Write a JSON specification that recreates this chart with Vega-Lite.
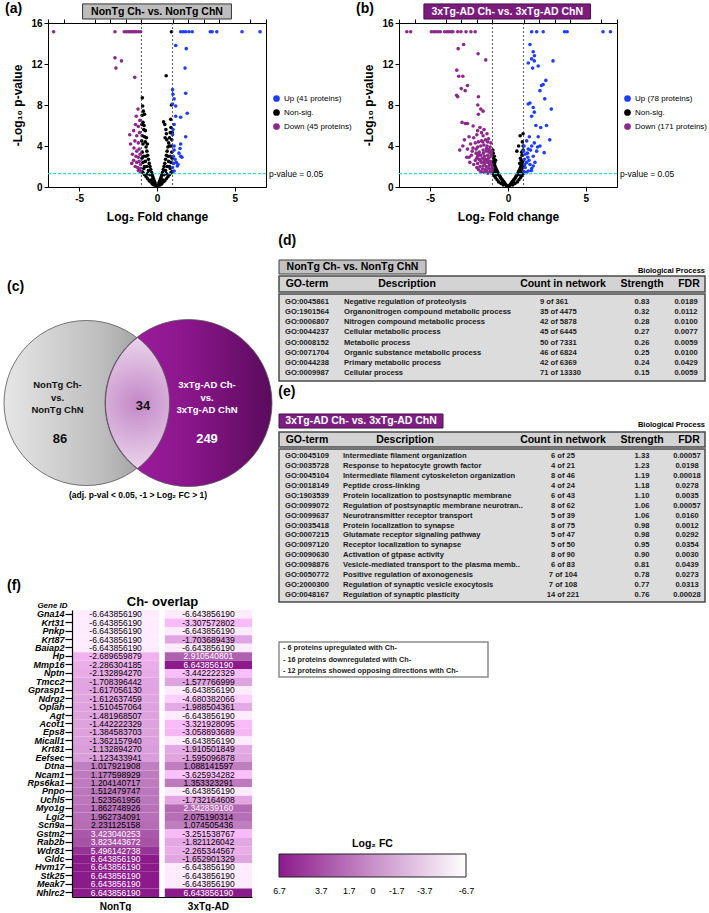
{
"$schema": "https://vega.github.io/schema/vega-lite/v6.json",
"background": "white",
"padding": {"left": 2, "top": 1, "right": 0, "bottom": 0},
"config": {
  "font": "Liberation Sans",
  "view": {"stroke": null},
  "locale": {"number": {"decimal": ".", "thousands": ",", "grouping": [3], "currency": ["$", ""], "minus": "-"}},
  "title": {"fontSize": 14, "fontWeight": "bold", "anchor": "start", "color": "black"},
  "axis": {"labelColor": "black", "titleColor": "black", "domainColor": "black", "tickColor": "black", "grid": false}
},
"datasets": {
  "volcanoA": [
    {"log2fc":0,"nlogp":0.05,"status":"Non-sig."},{"log2fc":0.05,"nlogp":0.1,"status":"Non-sig."},{"log2fc":-0.05,"nlogp":0.1,"status":"Non-sig."},{"log2fc":0.1,"nlogp":0.2,"status":"Non-sig."},{"log2fc":-0.1,"nlogp":0.2,"status":"Non-sig."},{"log2fc":0.12,"nlogp":0.4,"status":"Non-sig."},{"log2fc":-0.12,"nlogp":0.4,"status":"Non-sig."},{"log2fc":0.18,"nlogp":0.6,"status":"Non-sig."},{"log2fc":-0.18,"nlogp":0.6,"status":"Non-sig."},{"log2fc":0.22,"nlogp":0.8,"status":"Non-sig."},{"log2fc":-0.22,"nlogp":0.8,"status":"Non-sig."},{"log2fc":0.27,"nlogp":1.0,"status":"Non-sig."},{"log2fc":-0.27,"nlogp":1.0,"status":"Non-sig."},{"log2fc":0.3,"nlogp":1.2,"status":"Non-sig."},{"log2fc":-0.3,"nlogp":1.2,"status":"Non-sig."},{"log2fc":0.35,"nlogp":1.4,"status":"Non-sig."},{"log2fc":-0.35,"nlogp":1.4,"status":"Non-sig."},{"log2fc":0.4,"nlogp":1.7,"status":"Non-sig."},{"log2fc":-0.4,"nlogp":1.7,"status":"Non-sig."},{"log2fc":0.45,"nlogp":2.0,"status":"Non-sig."},{"log2fc":-0.45,"nlogp":2.0,"status":"Non-sig."},{"log2fc":0.5,"nlogp":2.3,"status":"Non-sig."},{"log2fc":-0.5,"nlogp":2.3,"status":"Non-sig."},{"log2fc":0.55,"nlogp":2.7,"status":"Non-sig."},{"log2fc":-0.55,"nlogp":2.7,"status":"Non-sig."},{"log2fc":0.6,"nlogp":3.1,"status":"Non-sig."},{"log2fc":-0.6,"nlogp":3.1,"status":"Non-sig."},{"log2fc":0.65,"nlogp":3.5,"status":"Non-sig."},{"log2fc":-0.65,"nlogp":3.5,"status":"Non-sig."},{"log2fc":0.7,"nlogp":3.9,"status":"Non-sig."},{"log2fc":-0.7,"nlogp":3.9,"status":"Non-sig."},{"log2fc":0.75,"nlogp":4.3,"status":"Non-sig."},{"log2fc":-0.75,"nlogp":4.4,"status":"Non-sig."},{"log2fc":0.8,"nlogp":4.8,"status":"Non-sig."},{"log2fc":-0.8,"nlogp":4.9,"status":"Non-sig."},{"log2fc":0.85,"nlogp":5.3,"status":"Non-sig."},{"log2fc":-0.85,"nlogp":5.6,"status":"Non-sig."},{"log2fc":0.9,"nlogp":5.8,"status":"Non-sig."},{"log2fc":-0.9,"nlogp":6.3,"status":"Non-sig."},{"log2fc":-0.95,"nlogp":7.0,"status":"Non-sig."},{"log2fc":-0.92,"nlogp":7.9,"status":"Non-sig."},{"log2fc":-0.94,"nlogp":8.7,"status":"Non-sig."},{"log2fc":-0.88,"nlogp":7.4,"status":"Non-sig."},{"log2fc":-0.97,"nlogp":6.1,"status":"Non-sig."},{"log2fc":-0.83,"nlogp":6.0,"status":"Non-sig."},{"log2fc":0.2,"nlogp":0.2,"status":"Non-sig."},{"log2fc":-0.2,"nlogp":0.2,"status":"Non-sig."},{"log2fc":0.3,"nlogp":0.3,"status":"Non-sig."},{"log2fc":-0.3,"nlogp":0.3,"status":"Non-sig."},{"log2fc":0.4,"nlogp":0.5,"status":"Non-sig."},{"log2fc":-0.4,"nlogp":0.5,"status":"Non-sig."},{"log2fc":0.5,"nlogp":0.6,"status":"Non-sig."},{"log2fc":-0.5,"nlogp":0.6,"status":"Non-sig."},{"log2fc":0.6,"nlogp":0.8,"status":"Non-sig."},{"log2fc":-0.6,"nlogp":0.8,"status":"Non-sig."},{"log2fc":0.7,"nlogp":1.0,"status":"Non-sig."},{"log2fc":-0.7,"nlogp":1.0,"status":"Non-sig."},{"log2fc":0.8,"nlogp":1.2,"status":"Non-sig."},{"log2fc":-0.8,"nlogp":1.2,"status":"Non-sig."},{"log2fc":0.9,"nlogp":1.4,"status":"Non-sig."},{"log2fc":-0.9,"nlogp":1.4,"status":"Non-sig."},{"log2fc":0.97,"nlogp":1.5,"status":"Non-sig."},{"log2fc":-0.97,"nlogp":1.5,"status":"Non-sig."},{"log2fc":0.45,"nlogp":1.2,"status":"Non-sig."},{"log2fc":-0.45,"nlogp":1.2,"status":"Non-sig."},{"log2fc":0.55,"nlogp":1.6,"status":"Non-sig."},{"log2fc":-0.55,"nlogp":1.6,"status":"Non-sig."},{"log2fc":0.65,"nlogp":2.0,"status":"Non-sig."},{"log2fc":-0.65,"nlogp":2.0,"status":"Non-sig."},{"log2fc":0.75,"nlogp":2.5,"status":"Non-sig."},{"log2fc":-0.75,"nlogp":2.5,"status":"Non-sig."},{"log2fc":0.85,"nlogp":3.0,"status":"Non-sig."},{"log2fc":-0.85,"nlogp":3.0,"status":"Non-sig."},{"log2fc":0.95,"nlogp":3.4,"status":"Non-sig."},{"log2fc":-0.95,"nlogp":3.4,"status":"Non-sig."},{"log2fc":0.8,"nlogp":2.0,"status":"Non-sig."},{"log2fc":-0.8,"nlogp":2.0,"status":"Non-sig."},{"log2fc":0.9,"nlogp":2.4,"status":"Non-sig."},{"log2fc":-0.9,"nlogp":2.4,"status":"Non-sig."},{"log2fc":0.97,"nlogp":2.8,"status":"Non-sig."},{"log2fc":-0.97,"nlogp":2.8,"status":"Non-sig."},{"log2fc":0.7,"nlogp":3.0,"status":"Non-sig."},{"log2fc":-0.7,"nlogp":3.0,"status":"Non-sig."},{"log2fc":0.9,"nlogp":4.0,"status":"Non-sig."},{"log2fc":-0.9,"nlogp":4.2,"status":"Non-sig."},{"log2fc":0.95,"nlogp":4.6,"status":"Non-sig."},{"log2fc":-0.95,"nlogp":5.0,"status":"Non-sig."},{"log2fc":0.98,"nlogp":5.3,"status":"Non-sig."},{"log2fc":-0.98,"nlogp":4.5,"status":"Non-sig."},{"log2fc":0.35,"nlogp":0.7,"status":"Non-sig."},{"log2fc":-0.35,"nlogp":0.7,"status":"Non-sig."},{"log2fc":0.25,"nlogp":0.45,"status":"Non-sig."},{"log2fc":-0.25,"nlogp":0.45,"status":"Non-sig."},{"log2fc":0.6,"nlogp":1.3,"status":"Non-sig."},{"log2fc":-0.6,"nlogp":1.3,"status":"Non-sig."},{"log2fc":0.85,"nlogp":1.8,"status":"Non-sig."},{"log2fc":-0.85,"nlogp":1.8,"status":"Non-sig."},{"log2fc":0.42,"nlogp":6.35,"status":"Non-sig."},{"log2fc":0.5,"nlogp":6.1,"status":"Non-sig."},{"log2fc":0.57,"nlogp":5.6,"status":"Non-sig."},{"log2fc":0.6,"nlogp":5.2,"status":"Non-sig."},{"log2fc":0.52,"nlogp":4.8,"status":"Non-sig."},{"log2fc":0.63,"nlogp":4.6,"status":"Non-sig."},{"log2fc":0.78,"nlogp":4.0,"status":"Non-sig."},{"log2fc":0.93,"nlogp":8.0,"status":"Non-sig."},{"log2fc":0.59,"nlogp":10.85,"status":"Non-sig."},{"log2fc":0.93,"nlogp":15.15,"status":"Non-sig."},{"log2fc":0.88,"nlogp":6.6,"status":"Non-sig."},{"log2fc":-0.8,"nlogp":7.1,"status":"Non-sig."},{"log2fc":-0.75,"nlogp":5.5,"status":"Non-sig."},{"log2fc":-0.68,"nlogp":4.8,"status":"Non-sig."},{"log2fc":-0.62,"nlogp":4.2,"status":"Non-sig."},
    {"log2fc":-6.64,"nlogp":15.15,"status":"Down"},{"log2fc":-2.7,"nlogp":15.15,"status":"Down"},{"log2fc":-2.1,"nlogp":15.15,"status":"Down"},{"log2fc":-1.96,"nlogp":15.15,"status":"Down"},{"log2fc":-1.85,"nlogp":15.15,"status":"Down"},{"log2fc":-1.75,"nlogp":15.15,"status":"Down"},{"log2fc":-1.64,"nlogp":15.15,"status":"Down"},{"log2fc":-1.54,"nlogp":15.15,"status":"Down"},{"log2fc":-1.43,"nlogp":15.15,"status":"Down"},{"log2fc":-1.33,"nlogp":15.15,"status":"Down"},{"log2fc":-1.18,"nlogp":15.15,"status":"Down"},{"log2fc":-1.05,"nlogp":15.15,"status":"Down"},
    {"log2fc":-2.7,"nlogp":12.6,"status":"Down"},{"log2fc":-2.64,"nlogp":11.6,"status":"Down"},{"log2fc":-2.28,"nlogp":12.3,"status":"Down"},{"log2fc":-1.43,"nlogp":10.7,"status":"Down"},{"log2fc":-1.22,"nlogp":7.6,"status":"Down"},{"log2fc":-1.33,"nlogp":6.9,"status":"Down"},{"log2fc":-1.1,"nlogp":6.5,"status":"Down"},{"log2fc":-1.38,"nlogp":6.1,"status":"Down"},{"log2fc":-1.2,"nlogp":5.9,"status":"Down"},{"log2fc":-1.75,"nlogp":5.1,"status":"Down"},{"log2fc":-1.5,"nlogp":5.5,"status":"Down"},{"log2fc":-1.3,"nlogp":5.0,"status":"Down"},{"log2fc":-1.12,"nlogp":5.3,"status":"Down"},{"log2fc":-1.7,"nlogp":4.2,"status":"Down"},{"log2fc":-1.42,"nlogp":4.5,"status":"Down"},{"log2fc":-1.2,"nlogp":4.3,"status":"Down"},{"log2fc":-1.48,"nlogp":3.8,"status":"Down"},{"log2fc":-1.3,"nlogp":3.5,"status":"Down"},{"log2fc":-1.15,"nlogp":3.7,"status":"Down"},{"log2fc":-1.58,"nlogp":3.2,"status":"Down"},{"log2fc":-1.35,"nlogp":3.0,"status":"Down"},{"log2fc":-1.2,"nlogp":2.9,"status":"Down"},{"log2fc":-1.08,"nlogp":3.2,"status":"Down"},{"log2fc":-1.5,"nlogp":2.6,"status":"Down"},{"log2fc":-1.3,"nlogp":2.4,"status":"Down"},{"log2fc":-1.15,"nlogp":2.5,"status":"Down"},{"log2fc":-1.05,"nlogp":2.2,"status":"Down"},{"log2fc":-1.4,"nlogp":2.0,"status":"Down"},{"log2fc":-1.25,"nlogp":1.9,"status":"Down"},{"log2fc":-1.1,"nlogp":1.8,"status":"Down"},{"log2fc":-1.2,"nlogp":1.6,"status":"Down"},{"log2fc":-1.05,"nlogp":1.5,"status":"Down"},{"log2fc":-1.62,"nlogp":2.3,"status":"Down"},
    {"log2fc":1.52,"nlogp":15.15,"status":"Up"},{"log2fc":1.69,"nlogp":15.15,"status":"Up"},{"log2fc":1.84,"nlogp":15.15,"status":"Up"},{"log2fc":2.05,"nlogp":15.15,"status":"Up"},{"log2fc":2.26,"nlogp":15.15,"status":"Up"},{"log2fc":3.42,"nlogp":15.15,"status":"Up"},{"log2fc":3.54,"nlogp":15.15,"status":"Up"},{"log2fc":3.84,"nlogp":15.15,"status":"Up"},{"log2fc":5.46,"nlogp":15.15,"status":"Up"},{"log2fc":6.62,"nlogp":15.15,"status":"Up"},
    {"log2fc":1.2,"nlogp":13.8,"status":"Up"},{"log2fc":1.88,"nlogp":13.5,"status":"Up"},{"log2fc":1.8,"nlogp":11.6,"status":"Up"},{"log2fc":1.84,"nlogp":9.15,"status":"Up"},{"log2fc":1.0,"nlogp":9.5,"status":"Up"},{"log2fc":1.02,"nlogp":9.05,"status":"Up"},{"log2fc":1.1,"nlogp":8.6,"status":"Up"},{"log2fc":1.0,"nlogp":8.1,"status":"Up"},{"log2fc":1.2,"nlogp":7.9,"status":"Up"},{"log2fc":1.94,"nlogp":7.2,"status":"Up"},{"log2fc":1.2,"nlogp":6.9,"status":"Up"},{"log2fc":1.52,"nlogp":6.8,"status":"Up"},{"log2fc":1.1,"nlogp":6.1,"status":"Up"},{"log2fc":1.03,"nlogp":5.6,"status":"Up"},{"log2fc":1.0,"nlogp":5.1,"status":"Up"},{"log2fc":1.84,"nlogp":4.9,"status":"Up"},{"log2fc":1.1,"nlogp":4.0,"status":"Up"},{"log2fc":1.52,"nlogp":4.2,"status":"Up"},{"log2fc":1.48,"nlogp":3.75,"status":"Up"},{"log2fc":1.41,"nlogp":3.3,"status":"Up"},{"log2fc":1.52,"nlogp":3.0,"status":"Up"},{"log2fc":1.1,"nlogp":3.6,"status":"Up"},{"log2fc":1.16,"nlogp":2.7,"status":"Up"},{"log2fc":1.24,"nlogp":2.4,"status":"Up"},{"log2fc":1.3,"nlogp":2.05,"status":"Up"},{"log2fc":1.1,"nlogp":1.56,"status":"Up"},{"log2fc":1.0,"nlogp":1.9,"status":"Up"},{"log2fc":1.05,"nlogp":3.0,"status":"Up"},{"log2fc":1.35,"nlogp":2.2,"status":"Up"},{"log2fc":1.6,"nlogp":2.9,"status":"Up"},{"log2fc":1.07,"nlogp":2.3,"status":"Up"}
  ],
  "volcanoB": [
    {"log2fc":0,"nlogp":0.05,"status":"Non-sig."},{"log2fc":0.05,"nlogp":0.08,"status":"Non-sig."},{"log2fc":-0.05,"nlogp":0.08,"status":"Non-sig."},{"log2fc":0.1,"nlogp":0.15,"status":"Non-sig."},{"log2fc":-0.1,"nlogp":0.15,"status":"Non-sig."},{"log2fc":0.15,"nlogp":0.25,"status":"Non-sig."},{"log2fc":-0.15,"nlogp":0.25,"status":"Non-sig."},{"log2fc":0.2,"nlogp":0.35,"status":"Non-sig."},{"log2fc":-0.2,"nlogp":0.35,"status":"Non-sig."},{"log2fc":0.25,"nlogp":0.45,"status":"Non-sig."},{"log2fc":-0.25,"nlogp":0.45,"status":"Non-sig."},{"log2fc":0.3,"nlogp":0.55,"status":"Non-sig."},{"log2fc":-0.3,"nlogp":0.55,"status":"Non-sig."},{"log2fc":0.35,"nlogp":0.65,"status":"Non-sig."},{"log2fc":-0.35,"nlogp":0.65,"status":"Non-sig."},{"log2fc":0.4,"nlogp":0.75,"status":"Non-sig."},{"log2fc":-0.4,"nlogp":0.75,"status":"Non-sig."},{"log2fc":0.45,"nlogp":0.85,"status":"Non-sig."},{"log2fc":-0.45,"nlogp":0.85,"status":"Non-sig."},{"log2fc":0.5,"nlogp":1.0,"status":"Non-sig."},{"log2fc":-0.5,"nlogp":1.0,"status":"Non-sig."},{"log2fc":0.55,"nlogp":1.1,"status":"Non-sig."},{"log2fc":-0.55,"nlogp":1.1,"status":"Non-sig."},{"log2fc":0.6,"nlogp":1.25,"status":"Non-sig."},{"log2fc":-0.6,"nlogp":1.25,"status":"Non-sig."},{"log2fc":0.65,"nlogp":1.4,"status":"Non-sig."},{"log2fc":-0.65,"nlogp":1.4,"status":"Non-sig."},{"log2fc":0.7,"nlogp":1.55,"status":"Non-sig."},{"log2fc":-0.7,"nlogp":1.55,"status":"Non-sig."},{"log2fc":0.75,"nlogp":1.7,"status":"Non-sig."},{"log2fc":-0.75,"nlogp":1.7,"status":"Non-sig."},{"log2fc":0.8,"nlogp":1.9,"status":"Non-sig."},{"log2fc":-0.8,"nlogp":1.9,"status":"Non-sig."},{"log2fc":0.85,"nlogp":2.1,"status":"Non-sig."},{"log2fc":-0.85,"nlogp":2.1,"status":"Non-sig."},{"log2fc":0.9,"nlogp":2.3,"status":"Non-sig."},{"log2fc":-0.9,"nlogp":2.3,"status":"Non-sig."},{"log2fc":0.95,"nlogp":2.5,"status":"Non-sig."},{"log2fc":-0.95,"nlogp":2.5,"status":"Non-sig."},
    {"log2fc":0.3,"nlogp":0.2,"status":"Non-sig."},{"log2fc":-0.3,"nlogp":0.2,"status":"Non-sig."},{"log2fc":0.45,"nlogp":0.35,"status":"Non-sig."},{"log2fc":-0.45,"nlogp":0.35,"status":"Non-sig."},{"log2fc":0.6,"nlogp":0.5,"status":"Non-sig."},{"log2fc":-0.6,"nlogp":0.5,"status":"Non-sig."},{"log2fc":0.7,"nlogp":0.7,"status":"Non-sig."},{"log2fc":-0.7,"nlogp":0.7,"status":"Non-sig."},{"log2fc":0.8,"nlogp":0.9,"status":"Non-sig."},{"log2fc":-0.8,"nlogp":0.9,"status":"Non-sig."},{"log2fc":0.9,"nlogp":1.1,"status":"Non-sig."},{"log2fc":-0.9,"nlogp":1.1,"status":"Non-sig."},{"log2fc":0.97,"nlogp":1.3,"status":"Non-sig."},{"log2fc":-0.97,"nlogp":1.3,"status":"Non-sig."},{"log2fc":0.75,"nlogp":1.2,"status":"Non-sig."},{"log2fc":-0.75,"nlogp":1.2,"status":"Non-sig."},{"log2fc":0.9,"nlogp":1.6,"status":"Non-sig."},{"log2fc":-0.9,"nlogp":1.6,"status":"Non-sig."},{"log2fc":0.97,"nlogp":1.9,"status":"Non-sig."},{"log2fc":-0.97,"nlogp":1.9,"status":"Non-sig."},{"log2fc":0.85,"nlogp":1.5,"status":"Non-sig."},{"log2fc":-0.85,"nlogp":1.5,"status":"Non-sig."},{"log2fc":0.95,"nlogp":2.2,"status":"Non-sig."},{"log2fc":-0.95,"nlogp":2.2,"status":"Non-sig."},
    {"log2fc":-0.95,"nlogp":3.3,"status":"Non-sig."},{"log2fc":-0.88,"nlogp":3.0,"status":"Non-sig."},{"log2fc":-0.92,"nlogp":2.8,"status":"Non-sig."},{"log2fc":-0.8,"nlogp":2.6,"status":"Non-sig."},{"log2fc":-0.97,"nlogp":3.6,"status":"Non-sig."},{"log2fc":-0.85,"nlogp":2.4,"status":"Non-sig."},
    {"log2fc":0.97,"nlogp":5.2,"status":"Non-sig."},{"log2fc":0.92,"nlogp":4.4,"status":"Non-sig."},{"log2fc":0.88,"nlogp":3.4,"status":"Non-sig."},{"log2fc":0.8,"nlogp":2.8,"status":"Non-sig."},{"log2fc":0.97,"nlogp":4.0,"status":"Non-sig."},{"log2fc":0.9,"nlogp":3.1,"status":"Non-sig."},{"log2fc":0.85,"nlogp":2.6,"status":"Non-sig."},{"log2fc":0.97,"nlogp":3.6,"status":"Non-sig."},{"log2fc":0.75,"nlogp":2.3,"status":"Non-sig."},{"log2fc":0.78,"nlogp":5.0,"status":"Non-sig."},{"log2fc":0.68,"nlogp":4.0,"status":"Non-sig."},{"log2fc":0.57,"nlogp":3.5,"status":"Non-sig."},
    {"log2fc":-6.5,"nlogp":15.15,"status":"Down"},{"log2fc":-6.25,"nlogp":15.15,"status":"Down"},{"log2fc":-4.92,"nlogp":15.15,"status":"Down"},{"log2fc":-4.77,"nlogp":15.15,"status":"Down"},{"log2fc":-4.64,"nlogp":15.15,"status":"Down"},{"log2fc":-4.49,"nlogp":15.15,"status":"Down"},{"log2fc":-4.35,"nlogp":15.15,"status":"Down"},{"log2fc":-4.07,"nlogp":15.15,"status":"Down"},{"log2fc":-3.92,"nlogp":15.15,"status":"Down"},{"log2fc":-3.8,"nlogp":15.15,"status":"Down"},{"log2fc":-3.65,"nlogp":15.15,"status":"Down"},{"log2fc":-3.54,"nlogp":15.15,"status":"Down"},{"log2fc":-3.23,"nlogp":15.15,"status":"Down"},{"log2fc":-3.02,"nlogp":15.15,"status":"Down"},{"log2fc":-2.7,"nlogp":15.15,"status":"Down"},{"log2fc":-2.38,"nlogp":15.15,"status":"Down"},{"log2fc":-2.11,"nlogp":15.15,"status":"Down"},
    {"log2fc":-3.2,"nlogp":13.5,"status":"Down"},{"log2fc":-2.85,"nlogp":13.9,"status":"Down"},{"log2fc":-1.92,"nlogp":13.0,"status":"Down"},{"log2fc":-1.43,"nlogp":12.4,"status":"Down"},{"log2fc":-3.29,"nlogp":11.4,"status":"Down"},{"log2fc":-3.16,"nlogp":10.8,"status":"Down"},{"log2fc":-2.9,"nlogp":10.8,"status":"Down"},{"log2fc":-2.6,"nlogp":9.9,"status":"Down"},{"log2fc":-3.0,"nlogp":9.6,"status":"Down"},{"log2fc":-2.75,"nlogp":9.4,"status":"Down"},{"log2fc":-3.3,"nlogp":8.95,"status":"Down"},{"log2fc":-3.23,"nlogp":8.8,"status":"Down"},{"log2fc":-1.9,"nlogp":8.8,"status":"Down"},{"log2fc":-1.94,"nlogp":8.0,"status":"Down"},{"log2fc":-1.75,"nlogp":7.6,"status":"Down"},{"log2fc":-1.9,"nlogp":7.1,"status":"Down"},{"log2fc":-1.6,"nlogp":7.4,"status":"Down"},{"log2fc":-2.95,"nlogp":6.3,"status":"Down"},{"log2fc":-2.74,"nlogp":6.2,"status":"Down"},{"log2fc":-2.6,"nlogp":6.2,"status":"Down"},{"log2fc":-2.24,"nlogp":5.95,"status":"Down"},{"log2fc":-1.8,"nlogp":5.8,"status":"Down"},{"log2fc":-1.54,"nlogp":5.6,"status":"Down"},{"log2fc":-1.95,"nlogp":5.5,"status":"Down"},{"log2fc":-1.7,"nlogp":5.3,"status":"Down"},
    {"log2fc":-2.8,"nlogp":4.6,"status":"Down"},{"log2fc":-2.5,"nlogp":4.9,"status":"Down"},{"log2fc":-2.2,"nlogp":4.8,"status":"Down"},{"log2fc":-2.0,"nlogp":5.1,"status":"Down"},{"log2fc":-1.6,"nlogp":5.0,"status":"Down"},{"log2fc":-1.35,"nlogp":5.2,"status":"Down"},{"log2fc":-1.25,"nlogp":4.7,"status":"Down"},{"log2fc":-1.45,"nlogp":4.6,"status":"Down"},{"log2fc":-1.7,"nlogp":4.5,"status":"Down"},{"log2fc":-1.9,"nlogp":4.4,"status":"Down"},{"log2fc":-2.1,"nlogp":4.3,"status":"Down"},{"log2fc":-2.4,"nlogp":4.2,"status":"Down"},{"log2fc":-2.9,"nlogp":4.0,"status":"Down"},{"log2fc":-3.1,"nlogp":3.6,"status":"Down"},{"log2fc":-2.6,"nlogp":3.7,"status":"Down"},{"log2fc":-2.25,"nlogp":3.8,"status":"Down"},{"log2fc":-1.95,"nlogp":3.9,"status":"Down"},{"log2fc":-1.75,"nlogp":4.0,"status":"Down"},{"log2fc":-1.55,"nlogp":4.1,"status":"Down"},{"log2fc":-1.35,"nlogp":4.0,"status":"Down"},{"log2fc":-1.15,"nlogp":3.9,"status":"Down"},{"log2fc":-1.05,"nlogp":3.5,"status":"Down"},{"log2fc":-1.2,"nlogp":3.4,"status":"Down"},{"log2fc":-1.4,"nlogp":3.5,"status":"Down"},{"log2fc":-1.6,"nlogp":3.6,"status":"Down"},{"log2fc":-1.85,"nlogp":3.4,"status":"Down"},{"log2fc":-2.05,"nlogp":3.3,"status":"Down"},{"log2fc":-2.35,"nlogp":3.1,"status":"Down"},{"log2fc":-2.65,"nlogp":2.9,"status":"Down"},{"log2fc":-1.95,"nlogp":3.0,"status":"Down"},{"log2fc":-1.75,"nlogp":3.1,"status":"Down"},{"log2fc":-1.5,"nlogp":3.0,"status":"Down"},{"log2fc":-1.3,"nlogp":3.1,"status":"Down"},{"log2fc":-1.1,"nlogp":3.0,"status":"Down"},{"log2fc":-1.25,"nlogp":2.8,"status":"Down"},{"log2fc":-1.45,"nlogp":2.7,"status":"Down"},{"log2fc":-1.65,"nlogp":2.8,"status":"Down"},{"log2fc":-1.85,"nlogp":2.7,"status":"Down"},{"log2fc":-2.1,"nlogp":2.6,"status":"Down"},{"log2fc":-2.45,"nlogp":2.4,"status":"Down"},{"log2fc":-1.95,"nlogp":2.3,"status":"Down"},{"log2fc":-1.7,"nlogp":2.4,"status":"Down"},{"log2fc":-1.5,"nlogp":2.3,"status":"Down"},{"log2fc":-1.3,"nlogp":2.4,"status":"Down"},{"log2fc":-1.12,"nlogp":2.5,"status":"Down"},{"log2fc":-1.05,"nlogp":2.2,"status":"Down"},{"log2fc":-1.2,"nlogp":2.1,"status":"Down"},{"log2fc":-1.4,"nlogp":2.0,"status":"Down"},{"log2fc":-1.6,"nlogp":2.05,"status":"Down"},{"log2fc":-1.8,"nlogp":2.0,"status":"Down"},{"log2fc":-2.0,"nlogp":1.9,"status":"Down"},{"log2fc":-1.9,"nlogp":1.7,"status":"Down"},{"log2fc":-1.65,"nlogp":1.75,"status":"Down"},{"log2fc":-1.45,"nlogp":1.7,"status":"Down"},{"log2fc":-1.25,"nlogp":1.8,"status":"Down"},{"log2fc":-1.1,"nlogp":1.75,"status":"Down"},{"log2fc":-1.02,"nlogp":1.6,"status":"Down"},{"log2fc":-1.15,"nlogp":1.5,"status":"Down"},{"log2fc":-1.35,"nlogp":1.5,"status":"Down"},{"log2fc":-1.55,"nlogp":1.45,"status":"Down"},{"log2fc":-1.75,"nlogp":1.5,"status":"Down"},{"log2fc":-1.3,"nlogp":1.35,"status":"Down"},{"log2fc":-1.1,"nlogp":1.4,"status":"Down"},{"log2fc":-2.3,"nlogp":3.5,"status":"Down"},{"log2fc":-2.5,"nlogp":2.9,"status":"Down"},{"log2fc":-2.05,"nlogp":3.7,"status":"Down"},{"log2fc":-1.58,"nlogp":3.3,"status":"Down"},{"log2fc":-1.38,"nlogp":3.75,"status":"Down"},{"log2fc":-1.22,"nlogp":3.65,"status":"Down"},{"log2fc":-1.08,"nlogp":3.25,"status":"Down"},{"log2fc":-1.52,"nlogp":2.55,"status":"Down"},{"log2fc":-1.77,"nlogp":2.55,"status":"Down"},{"log2fc":-1.9,"nlogp":3.2,"status":"Down"},{"log2fc":-1.32,"nlogp":2.6,"status":"Down"},{"log2fc":-1.18,"nlogp":2.3,"status":"Down"},{"log2fc":-1.0,"nlogp":1.9,"status":"Down"},{"log2fc":-2.2,"nlogp":2.2,"status":"Down"},{"log2fc":-2.0,"nlogp":2.8,"status":"Down"},{"log2fc":-1.62,"nlogp":4.4,"status":"Down"},{"log2fc":-1.1,"nlogp":4.3,"status":"Down"},{"log2fc":-1.3,"nlogp":4.4,"status":"Down"},
    {"log2fc":1.52,"nlogp":15.15,"status":"Up"},{"log2fc":1.84,"nlogp":15.15,"status":"Up"},{"log2fc":2.26,"nlogp":15.15,"status":"Up"},{"log2fc":3.63,"nlogp":15.15,"status":"Up"},{"log2fc":3.8,"nlogp":15.15,"status":"Up"},{"log2fc":6.1,"nlogp":15.15,"status":"Up"},{"log2fc":6.58,"nlogp":15.15,"status":"Up"},
    {"log2fc":1.41,"nlogp":13.9,"status":"Up"},{"log2fc":1.62,"nlogp":13.2,"status":"Up"},{"log2fc":1.52,"nlogp":12.5,"status":"Up"},{"log2fc":1.69,"nlogp":12.3,"status":"Up"},{"log2fc":2.89,"nlogp":12.3,"status":"Up"},{"log2fc":1.3,"nlogp":12.1,"status":"Up"},{"log2fc":1.58,"nlogp":11.6,"status":"Up"},{"log2fc":1.94,"nlogp":11.8,"status":"Up"},{"log2fc":1.7,"nlogp":12.8,"status":"Up"},{"log2fc":2.43,"nlogp":10.4,"status":"Up"},{"log2fc":2.26,"nlogp":10.0,"status":"Up"},{"log2fc":2.15,"nlogp":9.9,"status":"Up"},{"log2fc":2.05,"nlogp":9.4,"status":"Up"},{"log2fc":2.36,"nlogp":8.6,"status":"Up"},{"log2fc":1.3,"nlogp":8.1,"status":"Up"},{"log2fc":1.41,"nlogp":8.2,"status":"Up"},{"log2fc":1.62,"nlogp":7.75,"status":"Up"},{"log2fc":2.78,"nlogp":7.6,"status":"Up"},{"log2fc":1.69,"nlogp":7.3,"status":"Up"},{"log2fc":1.52,"nlogp":6.9,"status":"Up"},{"log2fc":1.79,"nlogp":6.0,"status":"Up"},{"log2fc":2.1,"nlogp":5.8,"status":"Up"},{"log2fc":2.47,"nlogp":6.0,"status":"Up"},{"log2fc":1.37,"nlogp":4.9,"status":"Up"},{"log2fc":2.68,"nlogp":4.6,"status":"Up"},{"log2fc":1.69,"nlogp":4.3,"status":"Up"},{"log2fc":1.52,"nlogp":4.0,"status":"Up"},{"log2fc":2.05,"nlogp":4.0,"status":"Up"},{"log2fc":1.3,"nlogp":3.7,"status":"Up"},{"log2fc":1.84,"nlogp":3.5,"status":"Up"},{"log2fc":2.32,"nlogp":3.35,"status":"Up"},{"log2fc":1.1,"nlogp":3.2,"status":"Up"},{"log2fc":1.62,"nlogp":3.0,"status":"Up"},{"log2fc":1.2,"nlogp":2.4,"status":"Up"},{"log2fc":1.41,"nlogp":2.2,"status":"Up"},{"log2fc":1.62,"nlogp":2.05,"status":"Up"},{"log2fc":1.1,"nlogp":1.9,"status":"Up"},{"log2fc":1.3,"nlogp":1.56,"status":"Up"},{"log2fc":1.52,"nlogp":1.8,"status":"Up"},{"log2fc":1.05,"nlogp":2.7,"status":"Up"},{"log2fc":1.27,"nlogp":2.9,"status":"Up"},{"log2fc":1.16,"nlogp":1.4,"status":"Up"},{"log2fc":1.73,"nlogp":2.4,"status":"Up"},{"log2fc":1.0,"nlogp":3.5,"status":"Up"},{"log2fc":1.03,"nlogp":4.0,"status":"Up"},{"log2fc":1.94,"nlogp":4.9,"status":"Up"},{"log2fc":1.2,"nlogp":4.5,"status":"Up"},{"log2fc":1.45,"nlogp":3.6,"status":"Up"},{"log2fc":1.08,"nlogp":2.2,"status":"Up"},{"log2fc":1.35,"nlogp":2.6,"status":"Up"},{"log2fc":1.9,"nlogp":3.9,"status":"Up"},{"log2fc":1.25,"nlogp":3.3,"status":"Up"},{"log2fc":1.5,"nlogp":1.6,"status":"Up"},{"log2fc":1.02,"nlogp":1.5,"status":"Up"}
  ],
  "venn": [
    {"region": "NonTg only", "label": "NonTg Ch-\nvs.\nNonTg ChN", "count": 86},
    {"region": "Both", "label": "", "count": 34},
    {"region": "3xTg-AD only", "label": "3xTg-AD Ch-\nvs.\n3xTg-AD ChN", "count": 249}
  ],
  "goD": [
    {"go": "GO:0045861", "description": "Negative regulation of proteolysis", "count": "9 of 361", "strength": "0.83", "fdr": "0.0189"},
    {"go": "GO:1901564", "description": "Organonitrogen compound metabolic process", "count": "35 of 4475", "strength": "0.32", "fdr": "0.0112"},
    {"go": "GO:0006807", "description": "Nitrogen compound metabolic process", "count": "42 of 5878", "strength": "0.28", "fdr": "0.0100"},
    {"go": "GO:0044237", "description": "Cellular metabolic process", "count": "45 of 6445", "strength": "0.27", "fdr": "0.0077"},
    {"go": "GO:0008152", "description": "Metabolic process", "count": "50 of 7331", "strength": "0.26", "fdr": "0.0059"},
    {"go": "GO:0071704", "description": "Organic substance metabolic process", "count": "46 of 6824", "strength": "0.25", "fdr": "0.0100"},
    {"go": "GO:0044238", "description": "Primary metabolic process", "count": "42 of 6369", "strength": "0.24", "fdr": "0.0429"},
    {"go": "GO:0009987", "description": "Cellular process", "count": "71 of 13330", "strength": "0.15", "fdr": "0.0059"}
  ],
  "goE": [
    {"go": "GO:0045109", "description": "Intermediate filament organization", "count": "6 of 25", "strength": "1.33", "fdr": "0.00057"},
    {"go": "GO:0035728", "description": "Response to hepatocyte growth factor", "count": "4 of 21", "strength": "1.23", "fdr": "0.0198"},
    {"go": "GO:0045104", "description": "Intermediate filament cytoskeleton organization", "count": "8 of 46", "strength": "1.19", "fdr": "0.00018"},
    {"go": "GO:0018149", "description": "Peptide cross-linking", "count": "4 of 24", "strength": "1.18", "fdr": "0.0278"},
    {"go": "GO:1903539", "description": "Protein localization to postsynaptic membrane", "count": "6 of 43", "strength": "1.10", "fdr": "0.0035"},
    {"go": "GO:0099072", "description": "Regulation of postsynaptic membrane neurotran..", "count": "8 of 62", "strength": "1.06", "fdr": "0.00057"},
    {"go": "GO:0099637", "description": "Neurotransmitter receptor transport", "count": "5 of 39", "strength": "1.06", "fdr": "0.0160"},
    {"go": "GO:0035418", "description": "Protein localization to synapse", "count": "8 of 75", "strength": "0.98", "fdr": "0.0012"},
    {"go": "GO:0007215", "description": "Glutamate receptor signaling pathway", "count": "5 of 47", "strength": "0.98", "fdr": "0.0292"},
    {"go": "GO:0097120", "description": "Receptor localization to synapse", "count": "5 of 50", "strength": "0.95", "fdr": "0.0354"},
    {"go": "GO:0090630", "description": "Activation of gtpase activity", "count": "8 of 90", "strength": "0.90", "fdr": "0.0030"},
    {"go": "GO:0098876", "description": "Vesicle-mediated transport to the plasma memb..", "count": "6 of 83", "strength": "0.81", "fdr": "0.0439"},
    {"go": "GO:0050772", "description": "Positive regulation of axonogenesis", "count": "7 of 104", "strength": "0.78", "fdr": "0.0273"},
    {"go": "GO:2000300", "description": "Regulation of synaptic vesicle exocytosis", "count": "7 of 108", "strength": "0.77", "fdr": "0.0313"},
    {"go": "GO:0048167", "description": "Regulation of synaptic plasticity", "count": "14 of 221", "strength": "0.76", "fdr": "0.00028"}
  ],
  "overlap": [
    {"gene": "Gna14", "NonTg": -6.643856190, "3xTg-AD": -6.643856190},
    {"gene": "Krt31", "NonTg": -6.643856190, "3xTg-AD": -3.307572802},
    {"gene": "Pnkp", "NonTg": -6.643856190, "3xTg-AD": -6.643856190},
    {"gene": "Krt87", "NonTg": -6.643856190, "3xTg-AD": -1.703689439},
    {"gene": "Baiap2", "NonTg": -6.643856190, "3xTg-AD": -6.643856190},
    {"gene": "Hp", "NonTg": -2.689659879, "3xTg-AD": 2.910540801},
    {"gene": "Mmp16", "NonTg": -2.286304185, "3xTg-AD": 6.643856190},
    {"gene": "Nptn", "NonTg": -2.132894270, "3xTg-AD": -3.442222329},
    {"gene": "Tmcc2", "NonTg": -1.708396442, "3xTg-AD": -1.577766999},
    {"gene": "Gprasp1", "NonTg": -1.617056130, "3xTg-AD": -6.643856190},
    {"gene": "Ndrg2", "NonTg": -1.612637459, "3xTg-AD": -4.680382066},
    {"gene": "Oplah", "NonTg": -1.510457064, "3xTg-AD": -1.988504361},
    {"gene": "Agt", "NonTg": -1.481968507, "3xTg-AD": -6.643856190},
    {"gene": "Acot1", "NonTg": -1.442222329, "3xTg-AD": -3.321928095},
    {"gene": "Eps8", "NonTg": -1.384583703, "3xTg-AD": -3.058893689},
    {"gene": "Micall1", "NonTg": -1.362157940, "3xTg-AD": -6.643856190},
    {"gene": "Krt81", "NonTg": -1.132894270, "3xTg-AD": -1.910501849},
    {"gene": "Eefsec", "NonTg": -1.123433941, "3xTg-AD": -1.595096878},
    {"gene": "Dtna", "NonTg": 1.017921908, "3xTg-AD": 1.088141597},
    {"gene": "Ncam1", "NonTg": 1.177598929, "3xTg-AD": -3.625934282},
    {"gene": "Rps6ka1", "NonTg": 1.204140717, "3xTg-AD": 1.353323291},
    {"gene": "Pnpo", "NonTg": 1.512479747, "3xTg-AD": -6.643856190},
    {"gene": "Uchl5", "NonTg": 1.523561956, "3xTg-AD": -1.732164608},
    {"gene": "Myo1g", "NonTg": 1.862748926, "3xTg-AD": 2.342839160},
    {"gene": "Lgi2", "NonTg": 1.962734091, "3xTg-AD": 2.075190314},
    {"gene": "Scn9a", "NonTg": 2.231125158, "3xTg-AD": 1.074505436},
    {"gene": "Gstm2", "NonTg": 3.423040253, "3xTg-AD": -3.251538767},
    {"gene": "Rab2b", "NonTg": 3.823443672, "3xTg-AD": -1.821126042},
    {"gene": "Wdr81", "NonTg": 5.496142738, "3xTg-AD": -2.265344567},
    {"gene": "Gldc", "NonTg": 6.643856190, "3xTg-AD": -1.652901329},
    {"gene": "Hvm17", "NonTg": 6.643856190, "3xTg-AD": -6.643856190},
    {"gene": "Stk25", "NonTg": 6.643856190, "3xTg-AD": -6.643856190},
    {"gene": "Meak7", "NonTg": 6.643856190, "3xTg-AD": -6.643856190},
    {"gene": "Nhlrc2", "NonTg": 6.643856190, "3xTg-AD": 6.643856190}
  ]
},
"spacing": 10,
"vconcat": [
  {
    "spacing": 2,
    "resolve": {"scale": {"color": "independent"}, "legend": {"color": "independent"}},
    "hconcat": [
      {
        "width": 218, "height": 164,
        "view": {"stroke": "black", "strokeWidth": 1},
        "resolve": {"axis": {"x": "independent"}},
        "layer": [
          {
            "data": {"name": "volcanoA"},
            "mark": {"type": "circle", "size": 13, "opacity": 1},
            "encoding": {
              "x": {"field": "log2fc", "type": "quantitative", "scale": {"domain": [-7, 7], "nice": false, "zero": false},
                    "axis": {"title": "Log₂ Fold change", "values": [-5, 0, 5], "tickSize": 4, "labelFontSize": 10, "labelFontWeight": "bold", "labelPadding": 2, "labelFlush": false, "titleFontSize": 12, "titleFontWeight": "bold", "titlePadding": 8}},
              "y": {"field": "nlogp", "type": "quantitative", "scale": {"domain": [0, 16], "nice": false},
                    "axis": {"title": "-Log₁₀ p-value", "values": [0, 4, 8, 12, 16], "tickSize": 4, "labelFontSize": 10, "labelFontWeight": "bold", "labelPadding": 2, "labelFlush": false, "titleFontSize": 12, "titleFontWeight": "bold", "titlePadding": 6}},
              "color": {"field": "status", "type": "nominal", "scale": {"domain": ["Up", "Non-sig.", "Down"], "range": ["#1f3dff", "#000000", "#8c288c"]},
                        "legend": {"title": null, "orient": "none", "legendX": 224, "legendY": 71, "labelExpr": "datum.label == 'Up' ? 'Up (41 proteins)' : datum.label == 'Down' ? 'Down (45 proteins)' : datum.label", "labelFontSize": 8, "symbolSize": 45, "symbolType": "circle", "rowPadding": 5, "labelOffset": 3, "labelLimit": 200}}
            }
          },
          {"data": {"values": [{"cutoff": -1}, {"cutoff": 1}]}, "mark": {"type": "rule", "color": "#444444", "strokeDash": [2, 2], "strokeWidth": 0.9},
           "encoding": {"x": {"field": "cutoff", "type": "quantitative", "axis": {"values": [-7, -6, -4, -3, -2, -1, 1, 2, 3, 4, 6, 7], "labels": false, "title": null, "domain": false, "tickSize": 4}}}},
          {"data": {"values": [{"threshold": 1.3, "label": "p-value = 0.05"}]}, "mark": {"type": "rule", "color": "#22e2f2", "strokeDash": [3, 2], "strokeWidth": 1.2}, "encoding": {"y": {"field": "threshold", "type": "quantitative"}}},
          {"data": {"values": [{"threshold": 1.3, "label": "p-value = 0.05"}]}, "mark": {"type": "text", "align": "left", "dx": 3, "fontSize": 8.5}, "encoding": {"x": {"datum": 7, "axis": null}, "y": {"field": "threshold", "type": "quantitative"}, "text": {"field": "label"}}},
          {"data": {"values": [{"comparison": "NonTg Ch- vs. NonTg ChN"}]}, "mark": {"type": "rect", "fill": "#bdbdbd", "stroke": "#333333", "strokeWidth": 1}, "encoding": {"x": {"datum": -4.78, "axis": null}, "x2": {"datum": 4.78}, "y": {"datum": 16.39}, "y2": {"datum": 17.86}}},
          {"data": {"values": [{"comparison": "NonTg Ch- vs. NonTg ChN"}]}, "mark": {"type": "text", "fontSize": 10.5, "fontWeight": "bold", "baseline": "middle", "color": "black"}, "encoding": {"x": {"datum": 0, "axis": null}, "y": {"datum": 17.12}, "text": {"field": "comparison"}}},
          {"data": {"values": [{"panel": "(a)"}]}, "mark": {"type": "text", "align": "left", "baseline": "middle", "fontSize": 14, "fontWeight": "bold", "color": "black"}, "encoding": {"x": {"datum": -9.76, "axis": null}, "y": {"datum": 17.37}, "text": {"field": "panel"}}}
        ]
      },
      {
        "width": 218, "height": 164,
        "view": {"stroke": "black", "strokeWidth": 1},
        "resolve": {"axis": {"x": "independent"}},
        "layer": [
          {
            "data": {"name": "volcanoB"},
            "mark": {"type": "circle", "size": 13, "opacity": 1},
            "encoding": {
              "x": {"field": "log2fc", "type": "quantitative", "scale": {"domain": [-7, 7], "nice": false, "zero": false},
                    "axis": {"title": "Log₂ Fold change", "values": [-5, 0, 5], "tickSize": 4, "labelFontSize": 10, "labelFontWeight": "bold", "labelPadding": 2, "labelFlush": false, "titleFontSize": 12, "titleFontWeight": "bold", "titlePadding": 8}},
              "y": {"field": "nlogp", "type": "quantitative", "scale": {"domain": [0, 16], "nice": false},
                    "axis": {"title": "-Log₁₀ p-value", "values": [0, 4, 8, 12, 16], "tickSize": 4, "labelFontSize": 10, "labelFontWeight": "bold", "labelPadding": 2, "labelFlush": false, "titleFontSize": 12, "titleFontWeight": "bold", "titlePadding": 6}},
              "color": {"field": "status", "type": "nominal", "scale": {"domain": ["Up", "Non-sig.", "Down"], "range": ["#1f3dff", "#000000", "#8c288c"]},
                        "legend": {"title": null, "orient": "none", "legendX": 224, "legendY": 71, "labelExpr": "datum.label == 'Up' ? 'Up (78 proteins)' : datum.label == 'Down' ? 'Down (171 proteins)' : datum.label", "labelFontSize": 8, "symbolSize": 45, "symbolType": "circle", "rowPadding": 5, "labelOffset": 3, "labelLimit": 200}}
            }
          },
          {"data": {"values": [{"cutoff": -1}, {"cutoff": 1}]}, "mark": {"type": "rule", "color": "#444444", "strokeDash": [2, 2], "strokeWidth": 0.9},
           "encoding": {"x": {"field": "cutoff", "type": "quantitative", "axis": {"values": [-7, -6, -4, -3, -2, -1, 1, 2, 3, 4, 6, 7], "labels": false, "title": null, "domain": false, "tickSize": 4}}}},
          {"data": {"values": [{"threshold": 1.3, "label": "p-value = 0.05"}]}, "mark": {"type": "rule", "color": "#22e2f2", "strokeDash": [3, 2], "strokeWidth": 1.2}, "encoding": {"y": {"field": "threshold", "type": "quantitative"}}},
          {"data": {"values": [{"threshold": 1.3, "label": "p-value = 0.05"}]}, "mark": {"type": "text", "align": "left", "dx": 3, "fontSize": 8.5}, "encoding": {"x": {"datum": 7, "axis": null}, "y": {"field": "threshold", "type": "quantitative"}, "text": {"field": "label"}}},
          {"data": {"values": [{"comparison": "3xTg-AD Ch- vs. 3xTg-AD ChN"}]}, "mark": {"type": "rect", "fill": "#7b1c7d", "stroke": "#4a0f4b", "strokeWidth": 1}, "encoding": {"x": {"datum": -5.4, "axis": null}, "x2": {"datum": 5.3}, "y": {"datum": 16.39}, "y2": {"datum": 17.86}}},
          {"data": {"values": [{"comparison": "3xTg-AD Ch- vs. 3xTg-AD ChN"}]}, "mark": {"type": "text", "fontSize": 10.5, "fontWeight": "bold", "baseline": "middle", "color": "white"}, "encoding": {"x": {"datum": -0.05, "axis": null}, "y": {"datum": 17.12}, "text": {"field": "comparison"}}},
          {"data": {"values": [{"panel": "(b)"}]}, "mark": {"type": "text", "align": "left", "baseline": "middle", "fontSize": 14, "fontWeight": "bold", "color": "black"}, "encoding": {"x": {"datum": -9.76, "axis": null}, "y": {"datum": 17.37}, "text": {"field": "panel"}}}
        ]
      }
    ]
  },
  {
    "spacing": -47,
    "hconcat": [
      {"width": 1, "height": 1, "view": {"stroke": null}, "data": {"values": []}, "mark": "point", "encoding": {}},
      {
        "spacing": -2,
        "hconcat": [
          {
            "spacing": 0,
            "vconcat": [
              {"width": 1, "height": 20, "view": {"fill": "white", "stroke": null}, "data": {"values": []}, "mark": "point", "encoding": {}},
              {
                "spacing": 80,
                "vconcat": [
                  {
                    "title": {"text": "(c)", "dx": -65, "offset": 21, "frame": "group", "anchor": "start"},
                    "width": 126, "height": 176,
                    "data": {"name": "venn"},
                    "encoding": {
                      "x": {"field": "region", "type": "nominal", "sort": null,
                            "scale": {"type": "point", "domain": ["NonTg only", "Both", "3xTg-AD only"], "range": [14.5, 116.5], "padding": 0},
                            "axis": {"title": "(adj. p-val < 0.05, -1 > Log₂ FC > 1)", "labels": false, "ticks": false, "domain": false, "titleFontSize": 8.5, "titleFontWeight": "bold", "titlePadding": -1}}
                    },
                    "layer": [
                      {"transform": [{"filter": "datum.region == 'NonTg only'"}],
                       "mark": {"type": "point", "shape": "circle", "filled": true, "opacity": 1, "size": 27225, "stroke": "#555555", "strokeWidth": 0.8,
                                "fill": {"gradient": "linear", "x1": 0, "y1": 0, "x2": 1, "y2": 0, "stops": [{"offset": 0, "color": "#e6e6e6"}, {"offset": 0.6, "color": "#bdbdbd"}, {"offset": 1, "color": "#8f8f8f"}]}}},
                      {"transform": [{"filter": "datum.region == '3xTg-AD only'"}],
                       "mark": {"type": "point", "shape": "circle", "filled": true, "opacity": 1, "size": 27889, "stroke": "#555555", "strokeWidth": 0.8,
                                "fill": {"gradient": "linear", "x1": 0, "y1": 0, "x2": 1, "y2": 0, "stops": [{"offset": 0, "color": "#a51fa6"}, {"offset": 0.5, "color": "#8a168b"}, {"offset": 1, "color": "#5a0b5c"}]}}},
                      {"transform": [{"filter": "datum.region == 'Both'"}],
                       "mark": {"type": "point", "shape": "M0,-1C0.652,-0.493 0.652,0.493 0,1C-0.652,0.493 -0.652,-0.493 0,-1Z", "filled": true, "opacity": 1, "size": 17161, "stroke": "#555555", "strokeWidth": 0.8,
                                "fill": {"gradient": "radial", "x1": 0.5, "y1": 0.5, "r1": 0, "x2": 0.5, "y2": 0.5, "r2": 0.6, "stops": [{"offset": 0, "color": "#c488c7"}, {"offset": 1, "color": "#f1e3f2"}]}}},
                      {"transform": [{"filter": "datum.region == 'NonTg only'"}],
                       "mark": {"type": "text", "lineBreak": "\n", "lineHeight": 12.5, "fontSize": 9.5, "fontWeight": "bold", "color": "#111111", "dx": -29, "dy": -18},
                       "encoding": {"text": {"field": "label"}}},
                      {"transform": [{"filter": "datum.region == '3xTg-AD only'"}],
                       "mark": {"type": "text", "lineBreak": "\n", "lineHeight": 12.5, "fontSize": 9.5, "fontWeight": "bold", "color": "white", "dx": 18.5, "dy": -18},
                       "encoding": {"text": {"field": "label"}}},
                      {"transform": [{"filter": "datum.region == 'NonTg only'"}],
                       "mark": {"type": "text", "fontSize": 13, "fontWeight": "bold", "color": "#111111", "dx": -26.5, "dy": 36},
                       "encoding": {"text": {"field": "count"}}},
                      {"transform": [{"filter": "datum.region == 'Both'"}],
                       "mark": {"type": "text", "fontSize": 13, "fontWeight": "bold", "color": "#111111", "dx": 5.5, "dy": 3},
                       "encoding": {"text": {"field": "count"}}},
                      {"transform": [{"filter": "datum.region == '3xTg-AD only'"}],
                       "mark": {"type": "text", "fontSize": 13, "fontWeight": "bold", "color": "white", "dx": 18.5, "dy": 36},
                       "encoding": {"text": {"field": "count"}}}
                    ]
                  },
                  {
                    "title": {"text": "(f)", "dx": -65, "offset": 2, "frame": "group", "anchor": "start"},
                    "width": 180, "height": 287,
                    "data": {"name": "overlap"},
                    "transform": [{"fold": ["NonTg", "3xTg-AD"], "as": ["group", "log2fc"]}],
                    "encoding": {
                      "y": {"field": "gene", "type": "nominal", "sort": null, "scale": {"paddingInner": 0, "paddingOuter": 0},
                            "axis": {"title": "Gene ID", "titleAngle": 0, "titleX": -20, "titleY": -1, "titleAlign": "center", "titleBaseline": "bottom", "titleFontSize": 8, "titleFontStyle": "italic", "titleFontWeight": "bold",
                                     "labelFontSize": 9, "labelFontStyle": "italic", "labelFontWeight": "bold", "tickSize": 7, "labelPadding": 1, "domainWidth": 1.2, "tickWidth": 1.2}}
                    },
                    "layer": [
                      {"mark": {"type": "rect"},
                       "encoding": {
                         "x": {"field": "group", "type": "nominal", "sort": ["NonTg", "3xTg-AD"], "scale": {"paddingInner": 0.06, "paddingOuter": 0},
                               "axis": {"title": null, "orient": "bottom", "labelAngle": 0, "labelFontSize": 10, "labelFontWeight": "bold", "ticks": false, "domainWidth": 1.2, "labelPadding": 4}},
                         "color": {"field": "log2fc", "type": "quantitative", "scale": {"domain": [-6.643856190, 0, 6.643856190], "range": ["#ffffff", "#c98fc9", "#8b1a8b"]}, "legend": null}
                       }},
                      {"mark": {"type": "text", "fontSize": 8.5},
                       "encoding": {
                         "x": {"field": "group", "type": "nominal", "sort": ["NonTg", "3xTg-AD"],
                               "axis": {"orient": "top", "title": "Ch- overlap", "labels": false, "ticks": false, "domain": false, "titleFontSize": 13, "titleFontWeight": "bold", "titlePadding": 2}},
                         "text": {"field": "log2fc", "type": "quantitative", "format": ".9f"},
                         "color": {"condition": {"test": "datum.log2fc > 2.3", "value": "white"}, "value": "black"}
                       }}
                    ],
                    "resolve": {"axis": {"x": "independent"}}
                  }
                ]
              }
            ]
          },
          {
            "spacing": 2,
            "vconcat": [
              {
                "title": {"text": "(d)", "offset": 12, "frame": "bounds", "anchor": "start"},
                "spacing": 0,
                "vconcat": [
                  {
                    "width": 426, "height": 14,
                    "data": {"values": [{"comparison": "NonTg Ch- vs. NonTg ChN", "category": "Biological Process"}]},
                    "layer": [
                      {"mark": {"type": "rect", "fill": "#c2c2c2", "stroke": "#3c3c3c", "strokeWidth": 1}, "encoding": {"x": {"datum": 0, "scale": {"domain": [0, 426], "nice": false, "zero": false}, "axis": null}, "x2": {"datum": 147}}},
                      {"mark": {"type": "text", "fontSize": 10.5, "fontWeight": "bold", "color": "black"}, "encoding": {"x": {"datum": 73.5, "axis": null}, "text": {"field": "comparison"}}},
                      {"mark": {"type": "text", "fontSize": 7.5, "fontWeight": "bold", "align": "right", "dy": 4, "color": "black"}, "encoding": {"x": {"datum": 426, "axis": null}, "text": {"field": "category"}}}
                    ]
                  },
                  {
                    "spacing": 0,
                    "vconcat": [
                      {
                        "width": 426, "height": 16,
                        "view": {"fill": "#d3d3d3", "stroke": "#4a4a4a", "strokeWidth": 1.5},
                        "data": {"values": [{"goTerm": "GO-term", "description": "Description", "count": "Count in network", "strength": "Strength", "fdr": "FDR"}]},
                        "layer": [
                          {"mark": {"type": "text", "fontSize": 10.5, "fontWeight": "bold"}, "encoding": {"x": {"datum": 28, "scale": {"domain": [0, 426], "nice": false, "zero": false}, "axis": null}, "text": {"field": "goTerm"}}},
                          {"mark": {"type": "text", "fontSize": 10.5, "fontWeight": "bold"}, "encoding": {"x": {"datum": 128, "axis": null}, "text": {"field": "description"}}},
                          {"mark": {"type": "text", "fontSize": 10.5, "fontWeight": "bold"}, "encoding": {"x": {"datum": 284, "axis": null}, "text": {"field": "count"}}},
                          {"mark": {"type": "text", "fontSize": 10.5, "fontWeight": "bold"}, "encoding": {"x": {"datum": 363, "axis": null}, "text": {"field": "strength"}}},
                          {"mark": {"type": "text", "fontSize": 10.5, "fontWeight": "bold"}, "encoding": {"x": {"datum": 410, "axis": null}, "text": {"field": "fdr"}}}
                        ]
                      },
                      {
                        "width": 426, "height": 87,
                        "view": {"fill": "#dcdcdc", "stroke": "#4a4a4a", "strokeWidth": 1.5},
                        "data": {"name": "goD"},
                        "encoding": {"y": {"field": "go", "type": "nominal", "sort": null, "scale": {"type": "point", "padding": 0.83}, "axis": null}},
                        "layer": [
                          {"mark": {"type": "text", "align": "left", "fontSize": 7.6, "fontWeight": "bold", "color": "#1a1a1a"}, "encoding": {"x": {"datum": 6, "scale": {"domain": [0, 426], "nice": false, "zero": false}, "axis": null}, "text": {"field": "go"}}},
                          {"mark": {"type": "text", "align": "left", "fontSize": 7.6, "fontWeight": "bold", "color": "#1a1a1a"}, "encoding": {"x": {"datum": 65, "axis": null}, "text": {"field": "description"}}},
                          {"mark": {"type": "text", "align": "left", "fontSize": 7.6, "fontWeight": "bold", "color": "#1a1a1a"}, "encoding": {"x": {"datum": 261, "axis": null}, "text": {"field": "count"}}},
                          {"mark": {"type": "text", "align": "center", "fontSize": 7.6, "fontWeight": "bold", "color": "#1a1a1a"}, "encoding": {"x": {"datum": 363, "axis": null}, "text": {"field": "strength"}}},
                          {"mark": {"type": "text", "align": "center", "fontSize": 7.6, "fontWeight": "bold", "color": "#1a1a1a"}, "encoding": {"x": {"datum": 407, "axis": null}, "text": {"field": "fdr"}}}
                        ]
                      }
                    ]
                  }
                ]
              },
              {
                "spacing": 38,
                "vconcat": [
                  {
                    "title": {"text": "(e)", "offset": 15, "frame": "bounds", "anchor": "start"},
                    "spacing": 2,
                    "vconcat": [
                      {
                        "width": 426, "height": 14,
                        "data": {"values": [{"comparison": "3xTg-AD Ch- vs. 3xTg-AD ChN", "category": "Biological Process"}]},
                        "layer": [
                          {"mark": {"type": "rect", "fill": "#7d1f80", "stroke": "#4a0f4b", "strokeWidth": 1}, "encoding": {"x": {"datum": 0, "scale": {"domain": [0, 426], "nice": false, "zero": false}, "axis": null}, "x2": {"datum": 164}}},
                          {"mark": {"type": "text", "fontSize": 10.5, "fontWeight": "bold", "color": "white"}, "encoding": {"x": {"datum": 82, "axis": null}, "text": {"field": "comparison"}}},
                          {"mark": {"type": "text", "fontSize": 7.5, "fontWeight": "bold", "align": "right", "dy": 4, "color": "black"}, "encoding": {"x": {"datum": 426, "axis": null}, "text": {"field": "category"}}}
                        ]
                      },
                      {
                        "spacing": 0,
                        "vconcat": [
                          {
                            "width": 426, "height": 15,
                            "view": {"fill": "#d3d3d3", "stroke": "#4a4a4a", "strokeWidth": 1.5},
                            "data": {"values": [{"goTerm": "GO-term", "description": "Description", "count": "Count in network", "strength": "Strength", "fdr": "FDR"}]},
                            "layer": [
                              {"mark": {"type": "text", "fontSize": 10.5, "fontWeight": "bold"}, "encoding": {"x": {"datum": 28, "scale": {"domain": [0, 426], "nice": false, "zero": false}, "axis": null}, "text": {"field": "goTerm"}}},
                              {"mark": {"type": "text", "fontSize": 10.5, "fontWeight": "bold"}, "encoding": {"x": {"datum": 126, "axis": null}, "text": {"field": "description"}}},
                              {"mark": {"type": "text", "fontSize": 10.5, "fontWeight": "bold"}, "encoding": {"x": {"datum": 284, "axis": null}, "text": {"field": "count"}}},
                              {"mark": {"type": "text", "fontSize": 10.5, "fontWeight": "bold"}, "encoding": {"x": {"datum": 363, "axis": null}, "text": {"field": "strength"}}},
                              {"mark": {"type": "text", "fontSize": 10.5, "fontWeight": "bold"}, "encoding": {"x": {"datum": 410, "axis": null}, "text": {"field": "fdr"}}}
                            ]
                          },
                          {
                            "width": 426, "height": 153,
                            "view": {"fill": "#dcdcdc", "stroke": "#4a4a4a", "strokeWidth": 1.5},
                            "data": {"name": "goE"},
                            "encoding": {"y": {"field": "go", "type": "nominal", "sort": null, "scale": {"type": "point", "padding": 0.69}, "axis": null}},
                            "layer": [
                              {"mark": {"type": "text", "align": "left", "fontSize": 7.6, "fontWeight": "bold", "color": "#1a1a1a"}, "encoding": {"x": {"datum": 6, "scale": {"domain": [0, 426], "nice": false, "zero": false}, "axis": null}, "text": {"field": "go"}}},
                              {"mark": {"type": "text", "align": "left", "fontSize": 7.6, "fontWeight": "bold", "color": "#1a1a1a"}, "encoding": {"x": {"datum": 64, "axis": null}, "text": {"field": "description"}}},
                              {"mark": {"type": "text", "align": "center", "fontSize": 7.6, "fontWeight": "bold", "color": "#1a1a1a"}, "encoding": {"x": {"datum": 284, "axis": null}, "text": {"field": "count"}}},
                              {"mark": {"type": "text", "align": "center", "fontSize": 7.6, "fontWeight": "bold", "color": "#1a1a1a"}, "encoding": {"x": {"datum": 363, "axis": null}, "text": {"field": "strength"}}},
                              {"mark": {"type": "text", "align": "center", "fontSize": 7.6, "fontWeight": "bold", "color": "#1a1a1a"}, "encoding": {"x": {"datum": 408, "axis": null}, "text": {"field": "fdr"}}}
                            ]
                          }
                        ]
                      }
                    ]
                  },
                  {
                    "spacing": 161,
                    "vconcat": [
                      {
                        "width": 209, "height": 35,
                        "view": {"fill": "white", "stroke": "#8a8a8a", "strokeWidth": 1.5},
                        "data": {"values": [{"note": "- 6 proteins upregulated with Ch-"}, {"note": "- 16  proteins downregulated with Ch-"}, {"note": "- 12 proteins showed opposing directions with Ch-"}]},
                        "mark": {"type": "text", "align": "left", "fontSize": 7.3, "fontWeight": "bold", "x": 4, "color": "#1a1a1a"},
                        "encoding": {"y": {"field": "note", "type": "nominal", "sort": null, "axis": null, "scale": {"paddingOuter": 0.1}}, "text": {"field": "note"}}
                      },
                      {
                        "title": {"text": "Log₂ FC", "anchor": "middle", "fontSize": 10.5, "offset": 4, "frame": "group"},
                        "width": 187, "height": 23,
                        "data": {"values": [{"high": 6.7, "low": -6.7}]},
                        "mark": {"type": "rect", "stroke": "#222222", "strokeWidth": 1,
                                 "fill": {"gradient": "linear", "x1": 0, "y1": 0, "x2": 1, "y2": 0, "stops": [{"offset": 0, "color": "#8b1a8b"}, {"offset": 0.5, "color": "#c98fc9"}, {"offset": 1, "color": "#ffffff"}]}},
                        "encoding": {
                          "x": {"field": "high", "type": "quantitative", "scale": {"domain": [-6.7, 6.7], "reverse": true, "nice": false, "zero": false},
                                "axis": {"values": [6.7, 3.7, 1.7, 0, -1.7, -3.7, -6.7], "labelExpr": "datum.value == 0 ? '0' : format(datum.value, '.1f')", "title": null, "ticks": false, "domain": false, "labelFontSize": 9, "labelPadding": 9, "labelFlush": false, "labelOverlap": false}},
                          "x2": {"field": "low"}
                        }
                      }
                    ]
                  }
                ]
              }
            ]
          }
        ]
      }
    ]
  }
]
}
